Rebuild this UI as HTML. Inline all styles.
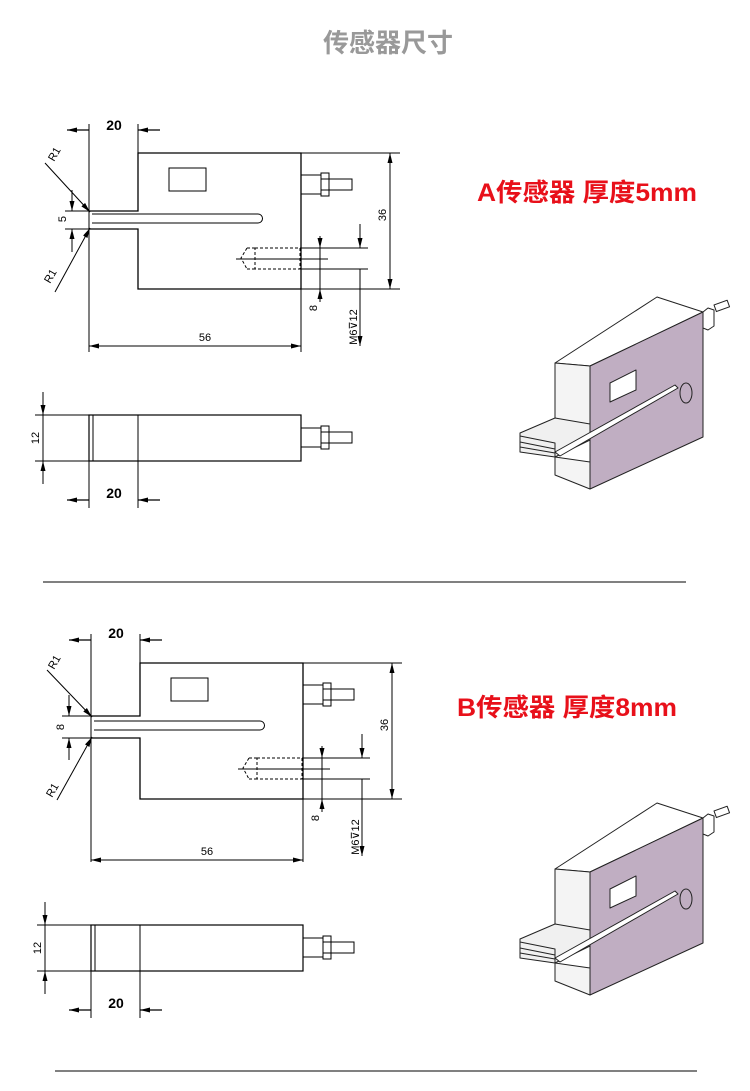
<!DOCTYPE html>
<html><head><meta charset="utf-8"><style>
html,body{margin:0;padding:0;background:#fff}
svg{display:block}
</style></head><body>
<svg width="750" height="1091" viewBox="0 0 750 1091" xmlns="http://www.w3.org/2000/svg">
<defs>
<marker id="ar" markerWidth="10" markerHeight="6" refX="10" refY="3" orient="auto-start-reverse" markerUnits="userSpaceOnUse"><path d="M0,0.5 L10,3 L0,5.5z" fill="#000"/></marker>
</defs>
<text x="388" y="52" text-anchor="middle" font-family="Liberation Sans, Noto Sans CJK SC, sans-serif" font-size="26" font-weight="bold" fill="#999">传感器尺寸</text>

<g id="A" stroke="#000" stroke-width="1" fill="none" font-family="Liberation Sans, sans-serif">
  <line x1="89" y1="124" x2="89" y2="352"/>
  <line x1="138" y1="124" x2="138" y2="153"/>
  <line x1="67" y1="130" x2="89" y2="130" marker-start="url(#ar)" stroke-width="1.2"/>
  <line x1="138" y1="130" x2="160" y2="130" marker-start="url(#ar)" stroke-width="1.2"/>
  <text x="114" y="130" text-anchor="middle" font-size="14" font-weight="bold" fill="#000" stroke="none">20</text>
  <path d="M89,211 H138 V153 H301 V289 H138 V229 H89" stroke-width="1.3"/>
  <path d="M92,214 H258 A4.5,4.5 0 0 1 258,223 H92" />
  <line x1="301" y1="153" x2="301" y2="352"/>
  <rect x="169" y="168" width="37" height="23"/>
  <rect x="301" y="175" width="20" height="19"/>
  <rect x="321" y="173" width="8" height="23"/>
  <line x1="321" y1="179" x2="329" y2="179"/><line x1="321" y1="190" x2="329" y2="190"/>
  <rect x="329" y="179" width="23" height="11"/>
  <line x1="301" y1="153" x2="400" y2="153"/>
  <line x1="301" y1="289" x2="400" y2="289"/>
  <line x1="390" y1="153" x2="390" y2="289" marker-start="url(#ar)" marker-end="url(#ar)"/>
  <text transform="translate(386,215) rotate(-90)" text-anchor="middle" font-size="11" fill="#000" stroke="none">36</text>
  <path d="M255,248 H300 V269 H255 Z M247,248 H255 M247,269 H255 M247,248 L241,258 L247,269" stroke-dasharray="3,2"/>
  <line x1="236" y1="259" x2="328" y2="259"/>
  <line x1="300" y1="248" x2="368" y2="248"/>
  <line x1="300" y1="269" x2="368" y2="269"/>
  <line x1="320" y1="236" x2="320" y2="248" marker-end="url(#ar)"/>
  <line x1="320" y1="302" x2="320" y2="289" marker-end="url(#ar)"/>
  <line x1="320" y1="248" x2="320" y2="289"/>
  <text transform="translate(317,308) rotate(-90)" text-anchor="middle" font-size="11" fill="#000" stroke="none">8</text>
  <line x1="360" y1="224" x2="360" y2="248" marker-end="url(#ar)"/>
  <line x1="360" y1="346" x2="360" y2="269" marker-start="url(#ar)" />
  <text transform="translate(357,327) rotate(-90)" text-anchor="middle" font-size="11" fill="#000" stroke="none">M6⊽12</text>
  <line x1="89" y1="346" x2="301" y2="346" marker-start="url(#ar)" marker-end="url(#ar)"/>
  <text x="205" y="341" text-anchor="middle" font-size="11" fill="#000" stroke="none">56</text>
  <line x1="65" y1="211" x2="89" y2="211"/>
  <line x1="65" y1="229" x2="89" y2="229"/>
  <line x1="72" y1="190" x2="72" y2="211" marker-end="url(#ar)"/>
  <line x1="72" y1="252" x2="72" y2="229" marker-end="url(#ar)"/>
  <text transform="translate(66,219) rotate(-90)" text-anchor="middle" font-size="11" fill="#000" stroke="none">5</text>
  <line x1="45" y1="163" x2="90" y2="212" marker-end="url(#ar)"/>
  <line x1="55" y1="292" x2="90" y2="228" marker-end="url(#ar)"/>
  <text transform="translate(54,162) rotate(-60)" font-size="11" fill="#000" stroke="none">R1</text>
  <text transform="translate(50,284) rotate(-60)" font-size="11" fill="#000" stroke="none">R1</text>
  <rect x="89" y="415" width="212" height="46" stroke-width="1.2"/>
  <line x1="93" y1="415" x2="93" y2="461"/>
  <line x1="138" y1="415" x2="138" y2="508"/>
  <line x1="89" y1="461" x2="89" y2="508"/>
  <line x1="35" y1="415" x2="89" y2="415"/>
  <line x1="35" y1="461" x2="89" y2="461"/>
  <line x1="43" y1="392" x2="43" y2="415" marker-end="url(#ar)"/>
  <line x1="43" y1="484" x2="43" y2="461" marker-end="url(#ar)"/>
  <line x1="43" y1="415" x2="43" y2="461"/>
  <text transform="translate(39,438) rotate(-90)" text-anchor="middle" font-size="11" fill="#000" stroke="none">12</text>
  <rect x="301" y="428" width="20" height="19"/>
  <rect x="321" y="426" width="8" height="23"/>
  <line x1="321" y1="432" x2="329" y2="432"/><line x1="321" y1="443" x2="329" y2="443"/>
  <rect x="329" y="432" width="23" height="11"/>
  <line x1="67" y1="500" x2="89" y2="500" marker-start="url(#ar)" stroke-width="1.2"/>
  <line x1="138" y1="500" x2="160" y2="500" marker-start="url(#ar)" stroke-width="1.2"/>
  <text x="114" y="498" text-anchor="middle" font-size="14" font-weight="bold" fill="#000" stroke="none">20</text>
</g>
<line x1="43" y1="582" x2="686" y2="582" stroke="#000" stroke-width="1"/>

<g transform="translate(2,510)" stroke="#000" stroke-width="1" fill="none" font-family="Liberation Sans, sans-serif">
  <line x1="89" y1="124" x2="89" y2="352"/>
  <line x1="138" y1="124" x2="138" y2="153"/>
  <line x1="67" y1="130" x2="89" y2="130" marker-start="url(#ar)" stroke-width="1.2"/>
  <line x1="138" y1="130" x2="160" y2="130" marker-start="url(#ar)" stroke-width="1.2"/>
  <text x="114" y="128" text-anchor="middle" font-size="14" font-weight="bold" fill="#000" stroke="none">20</text>
  <path d="M89,206 H138 V153 H301 V289 H138 V228 H89" stroke-width="1.3"/>
  <path d="M92,211 H258 A4.5,4.5 0 0 1 258,220 H92"/>
  <line x1="301" y1="153" x2="301" y2="352"/>
  <rect x="169" y="168" width="37" height="23"/>
  <rect x="301" y="175" width="20" height="19"/>
  <rect x="321" y="173" width="8" height="23"/>
  <line x1="321" y1="179" x2="329" y2="179"/><line x1="321" y1="190" x2="329" y2="190"/>
  <rect x="329" y="179" width="23" height="11"/>
  <line x1="301" y1="153" x2="400" y2="153"/>
  <line x1="301" y1="289" x2="400" y2="289"/>
  <line x1="390" y1="153" x2="390" y2="289" marker-start="url(#ar)" marker-end="url(#ar)"/>
  <text transform="translate(386,215) rotate(-90)" text-anchor="middle" font-size="11" fill="#000" stroke="none">36</text>
  <path d="M255,248 H300 V269 H255 Z M247,248 H255 M247,269 H255 M247,248 L241,258 L247,269" stroke-dasharray="3,2"/>
  <line x1="236" y1="259" x2="328" y2="259"/>
  <line x1="300" y1="248" x2="368" y2="248"/>
  <line x1="300" y1="269" x2="368" y2="269"/>
  <line x1="320" y1="236" x2="320" y2="248" marker-end="url(#ar)"/>
  <line x1="320" y1="302" x2="320" y2="289" marker-end="url(#ar)"/>
  <line x1="320" y1="248" x2="320" y2="289"/>
  <text transform="translate(317,308) rotate(-90)" text-anchor="middle" font-size="11" fill="#000" stroke="none">8</text>
  <line x1="360" y1="224" x2="360" y2="248" marker-end="url(#ar)"/>
  <line x1="360" y1="346" x2="360" y2="269" marker-start="url(#ar)"/>
  <text transform="translate(357,327) rotate(-90)" text-anchor="middle" font-size="11" fill="#000" stroke="none">M6⊽12</text>
  <line x1="89" y1="350" x2="301" y2="350" marker-start="url(#ar)" marker-end="url(#ar)"/>
  <text x="205" y="345" text-anchor="middle" font-size="11" fill="#000" stroke="none">56</text>
  <line x1="60" y1="206" x2="89" y2="206"/>
  <line x1="60" y1="228" x2="89" y2="228"/>
  <line x1="67" y1="185" x2="67" y2="206" marker-end="url(#ar)"/>
  <line x1="67" y1="250" x2="67" y2="228" marker-end="url(#ar)"/>
  <text transform="translate(62,217) rotate(-90)" text-anchor="middle" font-size="11" fill="#000" stroke="none">8</text>
  <line x1="45" y1="160" x2="90" y2="207" marker-end="url(#ar)"/>
  <line x1="55" y1="290" x2="90" y2="227" marker-end="url(#ar)"/>
  <text transform="translate(52,160) rotate(-60)" font-size="11" fill="#000" stroke="none">R1</text>
  <text transform="translate(50,288) rotate(-60)" font-size="11" fill="#000" stroke="none">R1</text>
  <rect x="89" y="415" width="212" height="46" stroke-width="1.2"/>
  <line x1="93" y1="415" x2="93" y2="461"/>
  <line x1="138" y1="415" x2="138" y2="508"/>
  <line x1="89" y1="461" x2="89" y2="508"/>
  <line x1="35" y1="415" x2="89" y2="415"/>
  <line x1="35" y1="461" x2="89" y2="461"/>
  <line x1="43" y1="392" x2="43" y2="415" marker-end="url(#ar)"/>
  <line x1="43" y1="484" x2="43" y2="461" marker-end="url(#ar)"/>
  <line x1="43" y1="415" x2="43" y2="461"/>
  <text transform="translate(39,438) rotate(-90)" text-anchor="middle" font-size="11" fill="#000" stroke="none">12</text>
  <rect x="301" y="428" width="20" height="19"/>
  <rect x="321" y="426" width="8" height="23"/>
  <line x1="321" y1="432" x2="329" y2="432"/><line x1="321" y1="443" x2="329" y2="443"/>
  <rect x="329" y="432" width="23" height="11"/>
  <line x1="67" y1="500" x2="89" y2="500" marker-start="url(#ar)" stroke-width="1.2"/>
  <line x1="138" y1="500" x2="160" y2="500" marker-start="url(#ar)" stroke-width="1.2"/>
  <text x="114" y="498" text-anchor="middle" font-size="14" font-weight="bold" fill="#000" stroke="none">20</text>
</g>
<line x1="55" y1="1071" x2="697" y2="1071" stroke="#000" stroke-width="1"/>

<text x="477" y="201" textLength="220" lengthAdjust="spacingAndGlyphs" font-family="Liberation Sans, Noto Sans CJK SC, sans-serif" font-size="25" font-weight="bold" fill="#e8101a">A传感器 厚度5mm</text>
<text x="457" y="716" textLength="220" lengthAdjust="spacingAndGlyphs" font-family="Liberation Sans, Noto Sans CJK SC, sans-serif" font-size="25" font-weight="bold" fill="#e8101a">B传感器 厚度8mm</text>

<g id="iso" stroke="#222" stroke-width="1" stroke-linejoin="round">
  <path d="M555,363 L657,297 L703,312 L590,366 Z" fill="#fff"/>
  <path d="M555,363 L590,366 L590,432 L555,418 Z" fill="#f4f4f4"/>
  <path d="M590,366 L703,312 L703,437 L590,489 Z" fill="#c0aec2"/>
  <path d="M520,433 L555,418 L590,424 L590,440 L555,457 L520,452 Z" fill="#f0f0f0"/>
  <path d="M520,436 L555,443 L555,457 M520,442 L555,449 M520,447 L555,453" fill="none"/>
  <path d="M555,457 L590,462 L590,489 L555,475 Z" fill="#f4f4f4"/>
  <path d="M555,452 L675,385 L678,388 L560,456 Z" fill="#fff"/>
  <path d="M610,383 L636,370 L636,390 L610,402 Z" fill="#fff"/>
  <ellipse cx="686" cy="393" rx="6" ry="10" fill="none"/>
  <path d="M703,312 L708,308 L714,310 L714,326 L708,330 L703,328 Z" fill="#fff"/>
  <rect x="714" y="305" width="14" height="7" fill="#fff" transform="rotate(-20 714 305)"/>
</g>
<use href="#iso" transform="translate(0,506)"/>
</svg>
</body></html>
